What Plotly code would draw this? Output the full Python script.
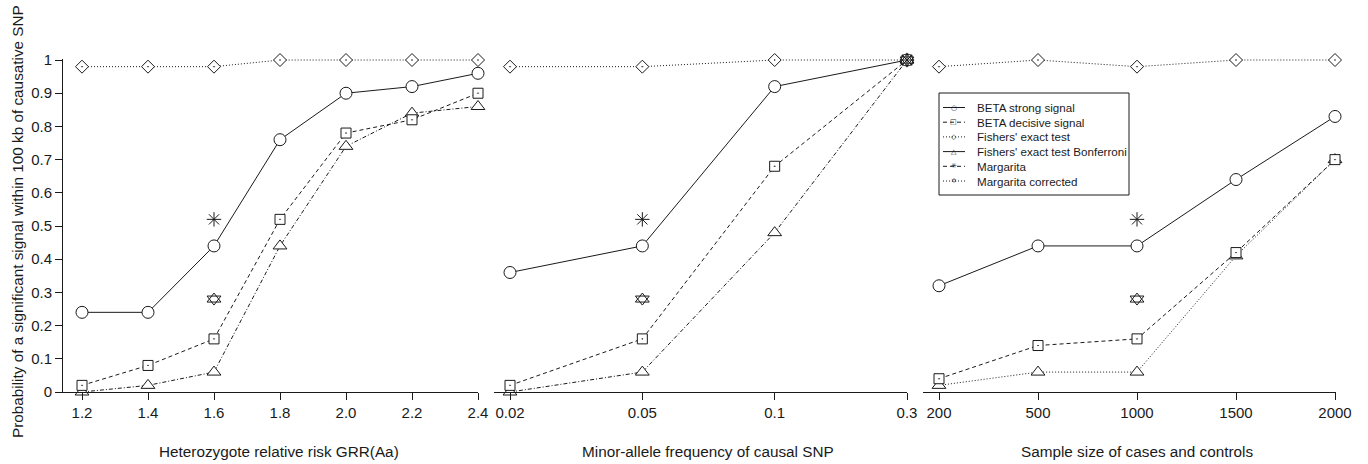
import plotly.graph_objects as go

# ---------------- data ----------------
grr = [1.2, 1.4, 1.6, 1.8, 2.0, 2.2, 2.4]
grr_strong = [0.24, 0.24, 0.44, 0.76, 0.90, 0.92, 0.96]
grr_decisive = [0.02, 0.08, 0.16, 0.52, 0.78, 0.82, 0.90]
grr_fisher = [0.98, 0.98, 0.98, 1.0, 1.0, 1.0, 1.0]
grr_bonf = [0.0, 0.02, 0.06, 0.44, 0.74, 0.84, 0.86]
grr_marg = [None, None, 0.52, None, None, None, None]
grr_margc = [None, None, 0.28, None, None, None, None]

maf = ["0.02", "0.05", "0.1", "0.3"]
maf_strong = [0.36, 0.44, 0.92, 1.0]
maf_decisive = [0.02, 0.16, 0.68, 1.0]
maf_fisher = [0.98, 0.98, 1.0, 1.0]
maf_bonf = [0.0, 0.06, 0.48, 1.0]
maf_marg = [None, 0.52, None, 1.0]
maf_margc = [None, 0.28, None, 1.0]

nsize = ["200", "500", "1000", "1500", "2000"]
n_strong = [0.32, 0.44, 0.44, 0.64, 0.83]
n_decisive = [0.04, 0.14, 0.16, 0.42, 0.70]
n_fisher = [0.98, 1.0, 0.98, 1.0, 1.0]
n_bonf = [0.02, 0.06, 0.06, 0.41, 0.70]
n_marg = [None, None, 0.52, None, None]
n_margc = [None, None, 0.28, None, None]

grr_ticks = [1.2, 1.4, 1.6, 1.8, 2.0, 2.2, 2.4]
grr_ticktext = ["1.2", "1.4", "1.6", "1.8", "2.0", "2.2", "2.4"]
y_ticks = [0, 0.1, 0.2, 0.3, 0.4, 0.5, 0.6, 0.7, 0.8, 0.9, 1.0]
y_ticktext = ["0", "0.1", "0.2", "0.3", "0.4", "0.5", "0.6", "0.7", "0.8", "0.9", "1"]

legend_names = ["BETA strong signal", "BETA decisive signal", "Fishers' exact test",
                "Fishers' exact test Bonferroni", "Margarita", "Margarita corrected"]
legend_glyphs = ["○", "□", "◇", "△", "✳", "✡"]

# ---------------- styles ----------------
INK = "#1a1a1a"
FONT = "Liberation Sans, Arial, Helvetica, sans-serif"
DASH = "4px,3px"
DOT = "1px,2px"
DASHDOT = "4px,2px,1px,2px"
legend_dashes = ["solid", DASH, DOT, "solid", DASH, DOT]

W, H = 1368, 464


def px(p):
    return p / W


def py(p):
    return (H - p) / H


fig = go.Figure()


def add_panel(xv, strong, decisive, fisher, bonf, marg, margc, ax, bonf_dash):
    xa = "x" if ax == 1 else "x%d" % ax
    ya = "y" if ax == 1 else "y%d" % ax
    common = dict(xaxis=xa, yaxis=ya, showlegend=False, cliponaxis=False)
    fig.add_trace(go.Scatter(x=xv, y=fisher, mode="lines+markers",
                             line=dict(color=INK, width=1, dash=DOT),
                             marker=dict(symbol="diamond-dot", size=10, color="white",
                                         line=dict(color=INK, width=1)), **common))
    fig.add_trace(go.Scatter(x=xv, y=bonf, mode="lines+markers",
                             line=dict(color=INK, width=1, dash=bonf_dash),
                             marker=dict(symbol="triangle-up", size=12, color="white",
                                         line=dict(color=INK, width=1)), **common))
    fig.add_trace(go.Scatter(x=xv, y=decisive, mode="lines+markers",
                             line=dict(color=INK, width=1, dash=DASH),
                             marker=dict(symbol="square-dot", size=10, color="white",
                                         line=dict(color=INK, width=1)), **common))
    fig.add_trace(go.Scatter(x=xv, y=strong, mode="lines+markers",
                             line=dict(color=INK, width=1),
                             marker=dict(symbol="circle", size=12, color="white",
                                         line=dict(color=INK, width=1)), **common))
    fig.add_trace(go.Scatter(x=xv, y=marg, mode="markers",
                             marker=dict(symbol="asterisk-open", size=12, color=INK,
                                         line=dict(color=INK, width=1)), **common))
    fig.add_trace(go.Scatter(x=xv, y=margc, mode="markers",
                             marker=dict(symbol="triangle-up-open", size=12, color=INK,
                                         line=dict(color=INK, width=1)), **common))
    fig.add_trace(go.Scatter(x=xv, y=margc, mode="markers",
                             marker=dict(symbol="triangle-down-open", size=12, color=INK,
                                         line=dict(color=INK, width=1)), **common))


add_panel(grr, grr_strong, grr_decisive, grr_fisher, grr_bonf, grr_marg, grr_margc, 1, DASHDOT)
add_panel(maf, maf_strong, maf_decisive, maf_fisher, maf_bonf, maf_marg, maf_margc, 2, DASHDOT)
add_panel(nsize, n_strong, n_decisive, n_fisher, n_bonf, n_marg, n_margc, 3, DOT)

y_dom = [py(392), py(58.7)]
tickfont = dict(family=FONT, size=15, color=INK)
xcommon = dict(showline=True, linecolor=INK, linewidth=1, ticks="outside", ticklen=7,
               tickcolor=INK, tickwidth=1, showgrid=False, zeroline=False,
               tickfont=tickfont, fixedrange=True)

# ---------------- legend (drawn by hand to match compact R legend) ----------------
shapes = [dict(type="rect", xref="paper", yref="paper", x0=px(939), x1=px(1129),
               y0=py(195), y1=py(93), line=dict(color=INK, width=1),
               fillcolor="white", layer="above")]
annotations = []
for i, (name, glyph, dash) in enumerate(zip(legend_names, legend_glyphs, legend_dashes)):
    yc = 107.5 + 14.7 * i
    shapes.append(dict(type="line", xref="paper", yref="paper", x0=px(943), x1=px(965),
                       y0=py(yc), y1=py(yc), line=dict(color=INK, width=1, dash=dash),
                       layer="above"))
    annotations.append(dict(text=glyph, x=px(954), y=py(yc), xref="paper", yref="paper",
                            showarrow=False, xanchor="center", yanchor="middle",
                            font=dict(family="DejaVu Sans", size=7, color=INK)))
    annotations.append(dict(text=name, x=px(975), y=py(yc), xref="paper", yref="paper",
                            showarrow=False, xanchor="left", yanchor="middle",
                            font=dict(family=FONT, size=11.6, color=INK)))

titles = [("Heterozygote relative risk GRR(Aa)", 279),
          ("Minor-allele frequency of causal SNP", 708),
          ("Sample size of cases and controls", 1137)]
for t, xc in titles:
    annotations.append(dict(text=t, x=px(xc), y=py(451), xref="paper", yref="paper",
                            showarrow=False, xanchor="center", yanchor="middle",
                            font=dict(family=FONT, size=15.3, color=INK)))
annotations.append(dict(text="Probability of a significant signal within 100 kb of causative SNP",
                        x=px(17), y=py(222), xref="paper", yref="paper", showarrow=False,
                        textangle=-90, xanchor="center", yanchor="middle",
                        font=dict(family=FONT, size=15.3, color=INK)))

fig.update_layout(
    width=W, height=H,
    margin=dict(l=0, r=0, t=0, b=0, autoexpand=False),
    showlegend=False,
    paper_bgcolor="white", plot_bgcolor="white",
    font=dict(family=FONT, color=INK),
    xaxis=dict(domain=[px(63), px(478)], range=[1.2 - 19 / 330, 2.4], tickvals=grr_ticks,
               ticktext=grr_ticktext, anchor="y", **xcommon),
    xaxis2=dict(domain=[px(494), px(907)], type="category", range=[-16 / 132.33, 3],
                anchor="y2", **xcommon),
    xaxis3=dict(domain=[px(923), px(1336)], type="category", range=[-16 / 99, 4.01],
                anchor="y3", **xcommon),
    yaxis=dict(domain=y_dom, range=[0, 1.004], tickvals=y_ticks, ticktext=y_ticktext,
               showline=True, linecolor=INK, linewidth=1, ticks="outside", ticklen=7,
               tickcolor=INK, showgrid=False, zeroline=False, tickfont=tickfont,
               anchor="x", fixedrange=True),
    yaxis2=dict(domain=y_dom, range=[0, 1.004], visible=False, anchor="x2", fixedrange=True),
    yaxis3=dict(domain=y_dom, range=[0, 1.004], visible=False, anchor="x3", fixedrange=True),
    shapes=shapes,
    annotations=annotations,
)
fig.write_html("out.html",
               config={"displayModeBar": False},
               post_script="document.body.style.margin='0';document.body.style.overflow='hidden';")
